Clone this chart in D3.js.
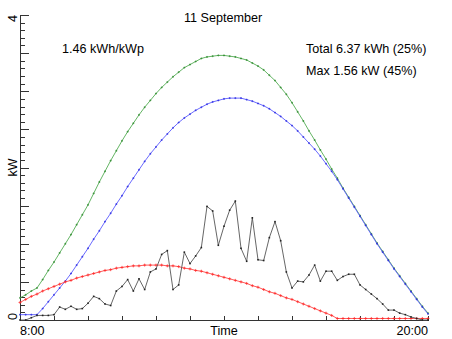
<!DOCTYPE html>
<html>
<head>
<meta charset="utf-8">
<script src="https://cdn.jsdelivr.net/npm/d3@7"></script>
<style>
  html, body { margin: 0; padding: 0; background: #fff; }
  svg { display: block; font-family: "Liberation Sans", Arial, sans-serif; }
</style>
</head>
<body>
<svg id="chart" width="452" height="339"></svg>
<script>
// Day: 11 September, 10-minute samples from 08:00 to 20:00 (kW)
const title = "11 September";
const startMinute = 8 * 60;
const stepMinutes = 10;

// Clear-sky reference output
const clearSky = [
  0.29, 0.33, 0.38, 0.42, 0.53, 0.65, 0.76, 0.88, 1.00, 1.12,
  1.25, 1.38, 1.51, 1.66, 1.81, 1.95, 2.09, 2.22, 2.35, 2.47,
  2.58, 2.69, 2.79, 2.88, 2.97, 3.05, 3.12, 3.19, 3.25, 3.31,
  3.35, 3.39, 3.43, 3.45, 3.46, 3.47, 3.47, 3.46, 3.45, 3.43,
  3.41, 3.37, 3.33, 3.28, 3.21, 3.14, 3.05, 2.96, 2.85, 2.73,
  2.61, 2.48, 2.36, 2.23, 2.11, 1.98, 1.86, 1.73, 1.61, 1.49,
  1.37, 1.25, 1.13, 1.01, 0.90, 0.79, 0.68, 0.58, 0.48, 0.38,
  0.28, 0.18, 0.09
];

// Expected output on the array plane
const expected = [
  0.07, 0.07, 0.07, 0.07, 0.15, 0.24, 0.33, 0.42, 0.51, 0.61,
  0.72, 0.83, 0.94, 1.06, 1.17, 1.29, 1.40, 1.52, 1.63, 1.75,
  1.86, 1.97, 2.08, 2.18, 2.27, 2.36, 2.44, 2.52, 2.59, 2.65,
  2.70, 2.75, 2.79, 2.83, 2.86, 2.88, 2.90, 2.91, 2.91, 2.91,
  2.89, 2.87, 2.84, 2.81, 2.77, 2.72, 2.67, 2.61, 2.55, 2.48,
  2.40, 2.32, 2.24, 2.15, 2.05, 1.95, 1.84, 1.72, 1.60, 1.48,
  1.36, 1.24, 1.12, 1.00, 0.89, 0.78, 0.67, 0.57, 0.47, 0.37,
  0.27, 0.17, 0.08
];

// Diffuse component
const diffuse = [
  0.23, 0.27, 0.31, 0.34, 0.38, 0.41, 0.44, 0.47, 0.50, 0.52,
  0.55, 0.57, 0.59, 0.61, 0.63, 0.65, 0.66, 0.68, 0.69, 0.70,
  0.71, 0.71, 0.72, 0.72, 0.72, 0.72, 0.71, 0.71, 0.70, 0.68,
  0.67, 0.65, 0.64, 0.62, 0.60, 0.58, 0.56, 0.54, 0.52, 0.50,
  0.48, 0.45, 0.43, 0.40, 0.37, 0.35, 0.32, 0.29, 0.27, 0.24,
  0.21, 0.18, 0.15, 0.12, 0.09, 0.06, 0.02, 0.02, 0.02, 0.02,
  0.02, 0.02, 0.02, 0.02, 0.02, 0.02, 0.02, 0.02, 0.02, 0.02,
  0.02, 0.02, 0.02
];

// Measured output
const measured = [
  0.00, 0.00, 0.03, 0.06, 0.06, 0.06, 0.07, 0.17, 0.14, 0.18,
  0.14, 0.15, 0.22, 0.31, 0.28, 0.21, 0.19, 0.38, 0.44, 0.53,
  0.38, 0.54, 0.40, 0.63, 0.67, 0.86, 0.91, 0.40, 0.46, 0.89,
  0.74, 0.84, 0.95, 1.49, 1.43, 0.98, 1.23, 1.44, 1.56, 0.94,
  0.77, 1.34, 0.79, 0.78, 1.08, 1.29, 1.04, 0.63, 0.42, 0.51,
  0.50, 0.59, 0.72, 0.51, 0.64, 0.64, 0.52, 0.57, 0.60, 0.60,
  0.46, 0.40, 0.34, 0.28, 0.21, 0.13, 0.13, 0.09, 0.07, 0.04,
  0.02, 0.00, 0.00
];

const xTickHours = [8, 9, 10, 11, 12, 13, 14, 15, 16, 17, 18, 19, 20];
const xLabels = [{ h: 8, text: "8:00", anchor: "start" }, { h: 20, text: "20:00", anchor: "end" }];
const yLabels = [{ v: 0, text: "0", anchor: "start" }, { v: 4, text: "4", anchor: "end" }];
const infoLeft = "1.46 kWh/kWp";
const infoTotal = "Total 6.37 kWh (25%)";
const infoMax = "Max 1.56 kW (45%)";

const svg = d3.select("#chart");
const plotLeft = 20, plotRight = 428, plotTop = 15, plotBottom = 320;

const x = d3.scaleLinear().domain([8, 20]).range([plotLeft, plotRight]);
const y = d3.scaleLinear().domain([0, 4]).range([plotBottom, plotTop]);
const hourOf = i => (startMinute + i * stepMinutes) / 60;

// Axes
const ax = svg.append("g").attr("stroke", "#333").attr("stroke-width", 1).attr("shape-rendering", "crispEdges");
ax.append("line").attr("x1", plotLeft + 0.5).attr("x2", plotLeft + 0.5).attr("y1", plotTop).attr("y2", plotBottom + 0.5);
ax.append("line").attr("x1", plotLeft).attr("x2", plotRight + 0.5).attr("y1", plotBottom + 0.5).attr("y2", plotBottom + 0.5);

const yTicks = d3.range(0, 41).map(k => k / 10);
ax.selectAll("line.yt").data(yTicks).join("line")
  .attr("x1", plotLeft + 0.5)
  .attr("x2", d => plotLeft + 0.5 + (Math.round(d * 10) % 5 === 0 ? 8 : 4))
  .attr("y1", d => Math.round(y(d)) + 0.5)
  .attr("y2", d => Math.round(y(d)) + 0.5);

ax.selectAll("line.xt").data(xTickHours).join("line")
  .attr("x1", d => Math.round(x(d)) + 0.5)
  .attr("x2", d => Math.round(x(d)) + 0.5)
  .attr("y1", plotBottom + 0.5)
  .attr("y2", plotBottom - 4);

const txt = svg.append("g").attr("fill", "#000").attr("font-size", "12.6px");
txt.selectAll("text.xl").data(xLabels).join("text")
  .attr("x", d => x(d.h)).attr("y", 335)
  .attr("text-anchor", d => d.anchor).text(d => d.text);
txt.append("text").attr("x", (plotLeft + plotRight) / 2).attr("y", 335)
  .attr("text-anchor", "middle").text("Time");
txt.selectAll("text.yl").data(yLabels).join("text")
  .attr("transform", d => `translate(17,${y(d.v)}) rotate(-90)`)
  .attr("text-anchor", d => d.anchor).text(d => d.text);
txt.append("text").attr("transform", `translate(17,${(plotTop + plotBottom) / 2}) rotate(-90)`)
  .attr("text-anchor", "middle").text("kW");

txt.append("text").attr("x", 223).attr("y", 22).attr("text-anchor", "middle").text(title);
txt.append("text").attr("x", 62).attr("y", 52.5).text(infoLeft);
txt.append("text").attr("x", 306).attr("y", 52.5).text(infoTotal);
txt.append("text").attr("x", 306).attr("y", 74.5).text(infoMax);

// Series
const series = [
  { values: clearSky, color: "#52ad52", mark: "#2e8a2e", shape: "plus", r: 1 },
  { values: expected, color: "#5a5aff", mark: "#2a2ae0", shape: "plus", r: 1 },
  { values: diffuse, color: "#ff4a4a", mark: "#ff2020", shape: "plus", r: 1.5 },
  { values: measured, color: "#555555", mark: "#222222", shape: "dot", r: 0.8 }
];

const line = d3.line().x((d, i) => x(hourOf(i))).y(d => y(d));

series.forEach(s => {
  const g = svg.append("g");
  g.append("path").datum(s.values)
    .attr("fill", "none").attr("stroke", s.color).attr("stroke-width", 0.9)
    .attr("d", line);
  const pts = s.values.map((v, i) => [x(hourOf(i)), y(v)]);
  if (s.shape === "plus") {
    g.selectAll("path.m").data(pts).join("path")
      .attr("d", p => `M${p[0] - s.r},${p[1]}H${p[0] + s.r}M${p[0]},${p[1] - s.r}V${p[1] + s.r}`)
      .attr("stroke", s.mark).attr("stroke-width", 0.7).attr("fill", "none");
  } else {
    g.selectAll("rect.m").data(pts).join("rect")
      .attr("x", p => p[0] - s.r).attr("y", p => p[1] - s.r)
      .attr("width", s.r * 2).attr("height", s.r * 2)
      .attr("fill", s.mark);
  }
});
</script>
</body>
</html>
